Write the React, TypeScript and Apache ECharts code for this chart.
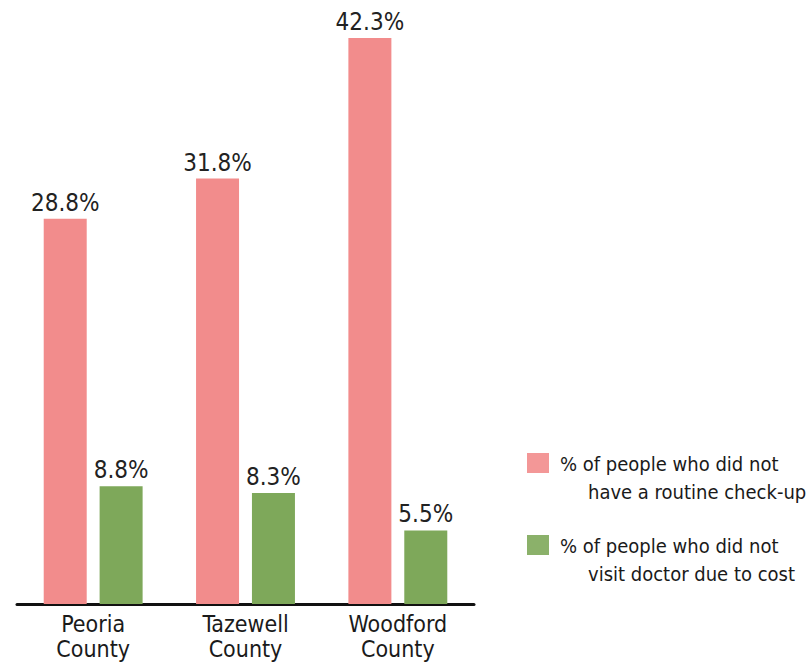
import React, { useEffect, useRef } from "react";
import * as echarts from "echarts";

const categories = ["Peoria\nCounty", "Tazewell\nCounty", "Woodford\nCounty"];
const checkupValues = [28.8, 31.8, 42.3];
const costValues = [8.8, 8.3, 5.5];
const seriesNames = [
  "% of people who did not have a routine check-up",
  "% of people who did not visit doctor due to cost",
];
const legendLine1 = ["% of people who did not", "% of people who did not"];
const legendLine2 = ["have a routine check-up", "visit doctor due to cost"];

const RED = "#f28c8c";
const GREEN = "#7ea85a";
const FONT = "'DejaVu Sans Condensed', 'DejaVu Sans', sans-serif";

export default function App() {
  const ref = useRef<HTMLDivElement>(null);
  useEffect(() => {
    if (!ref.current) return;
    const chart = echarts.init(ref.current, undefined, { renderer: "svg" });
    const colors = [RED, GREEN];
    const legendTops = [454, 536];
    const labelCfg = {
      show: true,
      position: "top",
      distance: 4,
      formatter: (p: any) => p.value.toFixed(1) + "%",
      color: "#222",
      fontFamily: FONT,
      fontSize: 24,
    };
    chart.setOption({
      animation: false,
      backgroundColor: "#ffffff",
      grid: { left: 17, right: 334, top: 2, bottom: 62 },
      xAxis: {
        type: "category",
        data: categories,
        axisLine: { lineStyle: { color: "#111", width: 3 } },
        axisTick: { show: false },
        axisLabel: {
          color: "#1a1a1a",
          fontFamily: FONT,
          fontSize: 23,
          lineHeight: 25,
          margin: 7,
        },
      },
      yAxis: {
        type: "value",
        min: 0,
        max: 45,
        show: false,
        splitLine: { show: false },
      },
      series: [
        {
          name: seriesNames[0],
          type: "bar",
          data: checkupValues,
          barWidth: 43,
          barGap: "30%",
          itemStyle: { color: RED },
          label: labelCfg,
        },
        {
          name: seriesNames[1],
          type: "bar",
          data: costValues,
          barWidth: 43,
          itemStyle: { color: GREEN },
          label: labelCfg,
        },
      ],
      graphic: seriesNames.flatMap((_, i) => [
        {
          type: "rect",
          shape: { x: 527, y: legendTops[i] - 1, width: 22, height: 20 },
          style: { fill: colors[i], opacity: 0.9 },
        },
        {
          type: "text",
          x: 560,
          y: legendTops[i],
          style: {
            text: legendLine1[i],
            fill: "#1a1a1a",
            font: `20px ${FONT}`,
          },
        },
        {
          type: "text",
          x: 588,
          y: legendTops[i] + 28,
          style: {
            text: legendLine2[i],
            fill: "#1a1a1a",
            font: `20px ${FONT}`,
          },
        },
      ]),
    });
    return () => chart.dispose();
  }, []);
  return (
    <div
      ref={ref}
      style={{ position: "fixed", left: 0, top: 0, width: 808, height: 666 }}
    />
  );
}
